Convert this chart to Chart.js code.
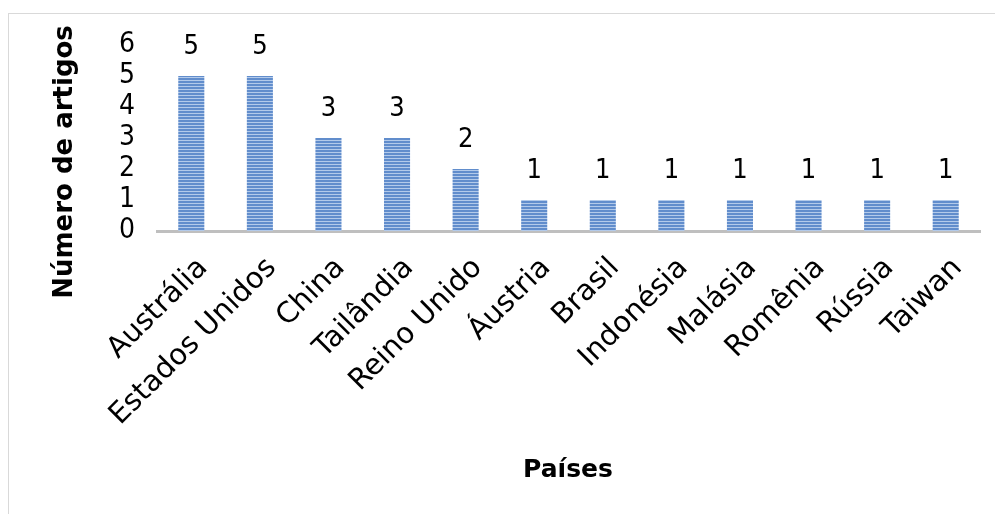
<!DOCTYPE html>
<html>
<head>
<meta charset="utf-8">
<script src="https://cdn.jsdelivr.net/npm/chart.js@4/dist/chart.umd.min.js"></script>
<style>
  html, body { margin: 0; padding: 0; background: #fff; }
  #wrap { width: 995px; height: 514px; position: relative; }
</style>
</head>
<body>
<div id="wrap"><canvas id="c" width="995" height="514"></canvas></div>
<script>
// Articles per country
const paises = ['Austrália', 'Estados Unidos', 'China', 'Tailândia', 'Reino Unido', 'Áustria',
                'Brasil', 'Indonésia', 'Malásia', 'Romênia', 'Rússia', 'Taiwan'];
const artigos = [5, 5, 3, 3, 2, 1, 1, 1, 1, 1, 1, 1];
const yTicks = [0, 1, 2, 3, 4, 5, 6];
const tituloY = 'Número de artigos';
const tituloX = 'Países';

const FONT = '"DejaVu Sans Condensed", "DejaVu Sans", sans-serif';
const FONT_LABEL = '"DejaVu Sans", sans-serif';
const FONT_BOLD = '"DejaVu Sans", sans-serif';

// Horizontal-stripe fill for the bars
function stripePattern(ctx) {
  const p = document.createElement('canvas');
  p.width = 4; p.height = 3;
  const g = p.getContext('2d');
  g.fillStyle = '#618DCC';
  g.fillRect(0, 0, 4, 3);
  g.fillStyle = '#B3CAEA';
  g.fillRect(0, 2, 4, 1);
  return ctx.createPattern(p, 'repeat');
}

// Thin grey frame, axis titles
const decorPlugin = {
  id: 'decor',
  beforeDraw(chart) {
    const c = chart.ctx;
    c.save();
    c.strokeStyle = '#D9D9D9';
    c.lineWidth = 1;
    c.strokeRect(8.5, 13.5, 1000, 520);
    c.restore();
  },
  afterDraw(chart) {
    const c = chart.ctx;
    c.save();
    c.fillStyle = '#000';
    c.textAlign = 'center';
    c.textBaseline = 'middle';
    c.font = 'bold 26px ' + FONT_BOLD;
    c.translate(65, 162);
    c.rotate(-Math.PI / 2);
    c.fillText(tituloY, 0, 0);
    c.restore();

    c.save();
    c.fillStyle = '#000';
    c.textAlign = 'center';
    c.textBaseline = 'middle';
    c.font = 'bold 25px ' + FONT_BOLD;
    c.fillText(tituloX, 568, 470);
    c.restore();
  }
};

// Value labels above each bar
const valueLabels = {
  id: 'valueLabels',
  afterDatasetsDraw(chart) {
    const c = chart.ctx;
    const meta = chart.getDatasetMeta(0);
    c.save();
    c.font = '27px ' + FONT;
    c.fillStyle = '#000';
    c.textAlign = 'center';
    c.textBaseline = 'middle';
    meta.data.forEach((bar, i) => {
      c.fillText(String(artigos[i]), bar.x, bar.y - 29);
    });
    c.restore();
  }
};

const ctx = document.getElementById('c').getContext('2d');
new Chart(ctx, {
  type: 'bar',
  data: {
    labels: paises,
    datasets: [{
      data: artigos,
      backgroundColor: stripePattern(ctx),
      borderWidth: 0,
      barPercentage: 0.38,
      categoryPercentage: 1.0
    }]
  },
  options: {
    responsive: false,
    animation: false,
    layout: { padding: { top: 45, right: 15, left: 0, bottom: 0 } },
    plugins: { legend: { display: false }, tooltip: { enabled: false } },
    scales: {
      x: {
        afterFit(axis) { axis.height = 514 - 231; },
        grid: { display: false, drawTicks: false },
        border: { display: true, color: '#BFBFBF', width: 3 },
        ticks: {
          color: '#000',
          font: { family: FONT_LABEL, size: 29 },
          maxRotation: 45, minRotation: 45,
          autoSkip: false,
          labelOffset: 12,
          padding: 20
        }
      },
      y: {
        min: 0, max: 6,
        afterFit(axis) { axis.width = 157; },
        afterBuildTicks(axis) { axis.ticks = yTicks.map(v => ({ value: v })); },
        grid: { display: false, drawTicks: false },
        border: { display: false },
        ticks: {
          color: '#000',
          autoSkip: false,
          font: { family: FONT, size: 28 },
          padding: 22
        }
      }
    }
  },
  plugins: [decorPlugin, valueLabels]
});
</script>
</body>
</html>
